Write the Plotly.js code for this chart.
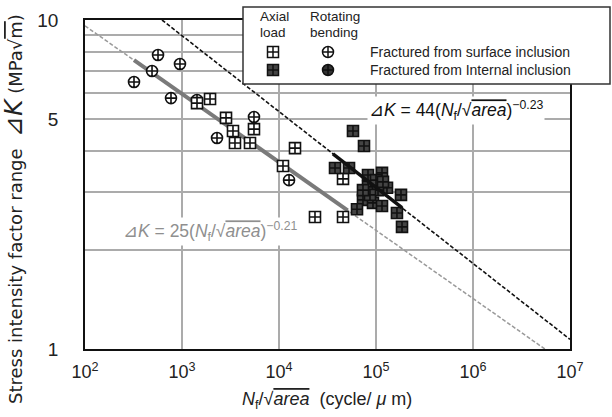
<!DOCTYPE html>
<html><head><meta charset="utf-8">
<script src="https://cdn.plot.ly/plotly-3.0.1.min.js"></script>
<style>html,body{margin:0;padding:0;background:#fff}#chart{width:612px;height:417px}</style>
</head><body><div id="chart"></div>
<script>
// ---- data ----
const rbSurfN = [566, 953, 491, 320, 770, 1428, 2296, 5522, 12690];
const rbSurfK = [7.83, 7.35, 7.0, 6.48, 5.79, 5.71, 4.38, 5.07, 3.26];
const axSurfN = [1945, 1428, 2843, 3354, 3516, 5522, 5023, 14620, 10990, 45700, 23500, 45700];
const axSurfK = [5.75, 5.59, 5.04, 4.60, 4.23, 4.66, 4.23, 4.08, 3.60, 3.29, 2.52, 2.52];
const axIntN = [57900, 75200, 37800, 52700, 82700, 115300, 129800, 181000, 82700, 104900, 73400, 93100, 115300, 63700, 164400, 185400, 86700, 100000, 118000, 73400];
const axIntK = [4.60, 4.14, 3.55, 3.55, 3.38, 3.43, 3.09, 2.94, 3.11, 3.04, 2.84, 2.78, 2.72, 2.66, 2.59, 2.35, 2.94, 3.26, 3.22, 3.04];
// fit lines: endpoints
const lineIntN = [622, 1e7],   lineIntK = [10, 1.07];
const lineSurfN = [100, 5.5e6], lineSurfK = [9.6, 1.0];
const fitIntN = [36000, 185000], fitIntK = [3.92, 2.69];
const fitSurfN = [320, 51000],   fitSurfK = [7.55, 2.64];
// ticks
const xTickVals = [1e2, 1e3, 1e4, 1e5, 1e6, 1e7];
const xTickText = ['10<sup>2</sup>','10<sup>3</sup>','10<sup>4</sup>','10<sup>5</sup>','10<sup>6</sup>','10<sup>7</sup>'];
const yTickVals = [1,2,3,4,5,6,7,8,9,10];
const yTickText = ['1','','','','5','','','','','10'];

const L=85, R=570, T=20, B=349;
const px = x => (x-L)/(R-L);
const py = y => (B-y)/(B-T);
const OL = s => "<span style='text-decoration:overline'>"+s+"</span>";
const SANS = 'Liberation Sans, Arial, sans-serif';

const traces = [
  {x: lineSurfN, y: lineSurfK, mode:'lines', line:{color:'#9a9a9a', width:1.5, dash:'4px,2px'}, hoverinfo:'skip'},
  {x: lineIntN, y: lineIntK, mode:'lines', line:{color:'#111', width:1.6, dash:'4px,2px'}, hoverinfo:'skip'},
  {x: fitSurfN, y: fitSurfK, mode:'lines', line:{color:'#7a7a7a', width:4}, hoverinfo:'skip'},
  {x: rbSurfN, y: rbSurfK, mode:'markers', marker:{symbol:'circle-cross', size:11, color:'#fff', line:{color:'#111', width:1.6}}},
  {x: axSurfN, y: axSurfK, mode:'markers', marker:{symbol:'square-cross', size:11, color:'#fff', line:{color:'#111', width:1.6}}},
  {x: axIntN, y: axIntK, mode:'markers', marker:{symbol:'square-cross', size:11, color:'#444', line:{color:'#111', width:1.6}}},
  {x: fitIntN, y: fitIntK, mode:'lines', line:{color:'#111', width:3.5}, hoverinfo:'skip'}
];

function sqSym(cx, cy, fill){
  const s=5.5, ln={color:'#111', width:1.5};
  return [
    {type:'rect', xref:'paper', yref:'paper', x0:px(cx-s), x1:px(cx+s), y0:py(cy+s), y1:py(cy-s), fillcolor:fill, line:ln},
    {type:'line', xref:'paper', yref:'paper', x0:px(cx-s), x1:px(cx+s), y0:py(cy), y1:py(cy), line:ln},
    {type:'line', xref:'paper', yref:'paper', x0:px(cx), x1:px(cx), y0:py(cy-s), y1:py(cy+s), line:ln}
  ];
}
function ciSym(cx, cy, fill){
  const s=5.5, ln={color:'#111', width:1.5};
  return [
    {type:'circle', xref:'paper', yref:'paper', x0:px(cx-s), x1:px(cx+s), y0:py(cy+s), y1:py(cy-s), fillcolor:fill, line:ln},
    {type:'line', xref:'paper', yref:'paper', x0:px(cx-s), x1:px(cx+s), y0:py(cy), y1:py(cy), line:ln},
    {type:'line', xref:'paper', yref:'paper', x0:px(cx), x1:px(cx), y0:py(cy-s), y1:py(cy+s), line:ln}
  ];
}
const shapes = [
  {type:'rect', xref:'paper', yref:'paper', x0:px(243), x1:px(610), y0:py(84), y1:py(7), fillcolor:'#fff', line:{color:'#333', width:1.5}}
].concat(sqSym(273,52,'#fff'), ciSym(328,52,'#fff'), sqSym(273,70,'#444'), ciSym(328,70,'#333'));

function ann(text, x, y, opts){
  return Object.assign({text, xref:'paper', yref:'paper', x:px(x), y:py(y), showarrow:false,
    xanchor:'left', yanchor:'middle', font:{family:SANS, size:14, color:'#222'}}, opts||{});
}
const annotations = [
  ann('Axial', 258, 17, {font:{family:SANS, size:13.5, color:'#222'}}),
  ann('load', 258, 32, {font:{family:SANS, size:13.5, color:'#222'}}),
  ann('Rotating', 308, 17, {font:{family:SANS, size:13.5, color:'#222'}}),
  ann('bending', 308, 32, {font:{family:SANS, size:13.5, color:'#222'}}),
  ann('Fractured from surface inclusion', 368, 52),
  ann('Fractured from Internal inclusion', 368, 70),
  ann('⊿<i>K</i> = 44(<i>N</i><sub>f</sub>/√'+OL('<i>area</i>')+')<sup>−0.23</sup>', 456, 110,
      {xanchor:'center', font:{family:SANS, size:17.5, color:'#111'}, bgcolor:'#fff', borderpad:1}),
  ann('⊿<i>K</i> = 25(<i>N</i><sub>f</sub>/√'+OL('<i>area</i>')+')<sup>−0.21</sup>', 210, 231,
      {xanchor:'center', font:{family:SANS, size:17.5, color:'#8f8f8f'}, bgcolor:'#fff', borderpad:1}),
  ann('<i>N</i><sub>f</sub>/√'+OL('<i>area</i>')+'  (cycle/ <i>μ</i> m)', 327, 401,
      {xanchor:'center', font:{family:SANS, size:18, color:'#222'}}),
  ann("Stress intensity factor range  <span style='font-size:25px'>⊿<i>K</i></span> (MPa√"+OL('m')+')', 13, 209,
      {xanchor:'center', textangle:-90, font:{family:'DejaVu Sans, sans-serif', size:18, color:'#222'}})
];

const layout = {
  width:612, height:417,
  margin:{l:L, r:612-R, t:T, b:417-B, pad:0},
  paper_bgcolor:'#fff', plot_bgcolor:'#fff',
  showlegend:false,
  xaxis:{type:'log', range:[2,7], tickvals:xTickVals, ticktext:xTickText,
    showgrid:true, gridcolor:'#ababab', gridwidth:1.6, zeroline:false,
    showline:true, mirror:true, linecolor:'#111', linewidth:1.8,
    ticks:'outside', ticklen:6, tickcolor:'rgba(0,0,0,0)',
    tickfont:{family:SANS, size:18, color:'#222'}},
  yaxis:{type:'log', range:[0,1], tickvals:yTickVals, ticktext:yTickText,
    showgrid:true, gridcolor:'#ababab', gridwidth:1.6, zeroline:false,
    showline:true, mirror:true, linecolor:'#111', linewidth:1.8,
    ticks:'outside', ticklen:21, tickcolor:'rgba(0,0,0,0)',
    tickfont:{family:SANS, size:19, color:'#222'}},
  shapes, annotations
};
Plotly.newPlot('chart', traces, layout, {staticPlot:true, displayModeBar:false});
</script></body></html>
